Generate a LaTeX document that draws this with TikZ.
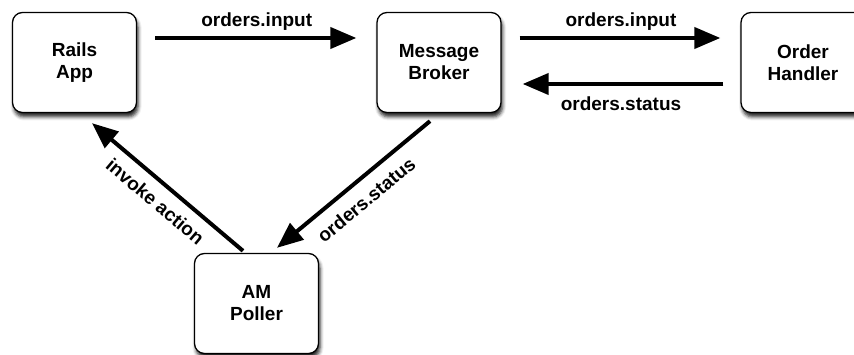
\documentclass[tikz,border=0pt]{standalone}
\usepackage{fontspec}
\setmainfont{Liberation Sans}
\usetikzlibrary{arrows.meta}
\usetikzlibrary{shadows.blur}

\begin{document}
\begin{tikzpicture}[x=1pt, y=-1pt,
    box/.style={draw, line width=1.3pt, rounded corners=10pt, fill=white,
      minimum width=124pt, minimum height=100pt, align=center,
      font=\fontsize{19}{22}\selectfont\bfseries,
      blur shadow={shadow xshift=1.5pt, shadow yshift=-4.5pt,
        shadow blur radius=3.5pt, shadow opacity=85}},
    flow/.style={line width=4pt, -{Triangle[length=26pt, width=21pt]}},
    lbl/.style={font=\fontsize{19}{22}\selectfont\bfseries, inner sep=2pt}]
      \useasboundingbox (0, 0) rectangle (854, 355);
      \node [box] (rails) at (74.5, 62.5) {Rails\\App};
      \node [box] (broker) at (439, 62.5) {Message\\Broker};
      \node [box] (handler) at (803, 62.5) {Order\\Handler};
      \node [box] (poller) at (256.5, 303.5) {AM\\Poller};
      \draw [flow, shorten <=18pt, shorten >=20pt] ([yshift=24.5pt]rails.east)
        -- node [lbl, above, outer sep=6pt] (in1) {orders.input} ([yshift=24.5pt]broker.west);
      \draw [flow, shorten <=18pt, shorten >=20pt] ([yshift=24.5pt]broker.east)
        -- node [lbl, above, outer sep=6pt] (in2) {orders.input} ([yshift=24.5pt]handler.west);
      \draw [flow, shorten <=17pt, shorten >=21pt] ([yshift=-21.5pt]handler.west)
        -- node [lbl, below, outer sep=10.5pt] (st1) {orders.status} ([yshift=-21.5pt]broker.east);
      \draw [flow] ([xshift=-13.5pt, yshift=2pt]poller.north)
        -- node [lbl, sloped, below, outer sep=10pt] (inv) {invoke action} ([xshift=17.5pt, yshift=-10pt]rails.south);
      \draw [flow] ([xshift=-9pt, yshift=-8pt]broker.south)
        -- node [lbl, sloped, below, outer sep=11pt] (st2) {orders.status} ([xshift=20.5pt, yshift=5pt]poller.north);
    \end{tikzpicture}
\end{document}
